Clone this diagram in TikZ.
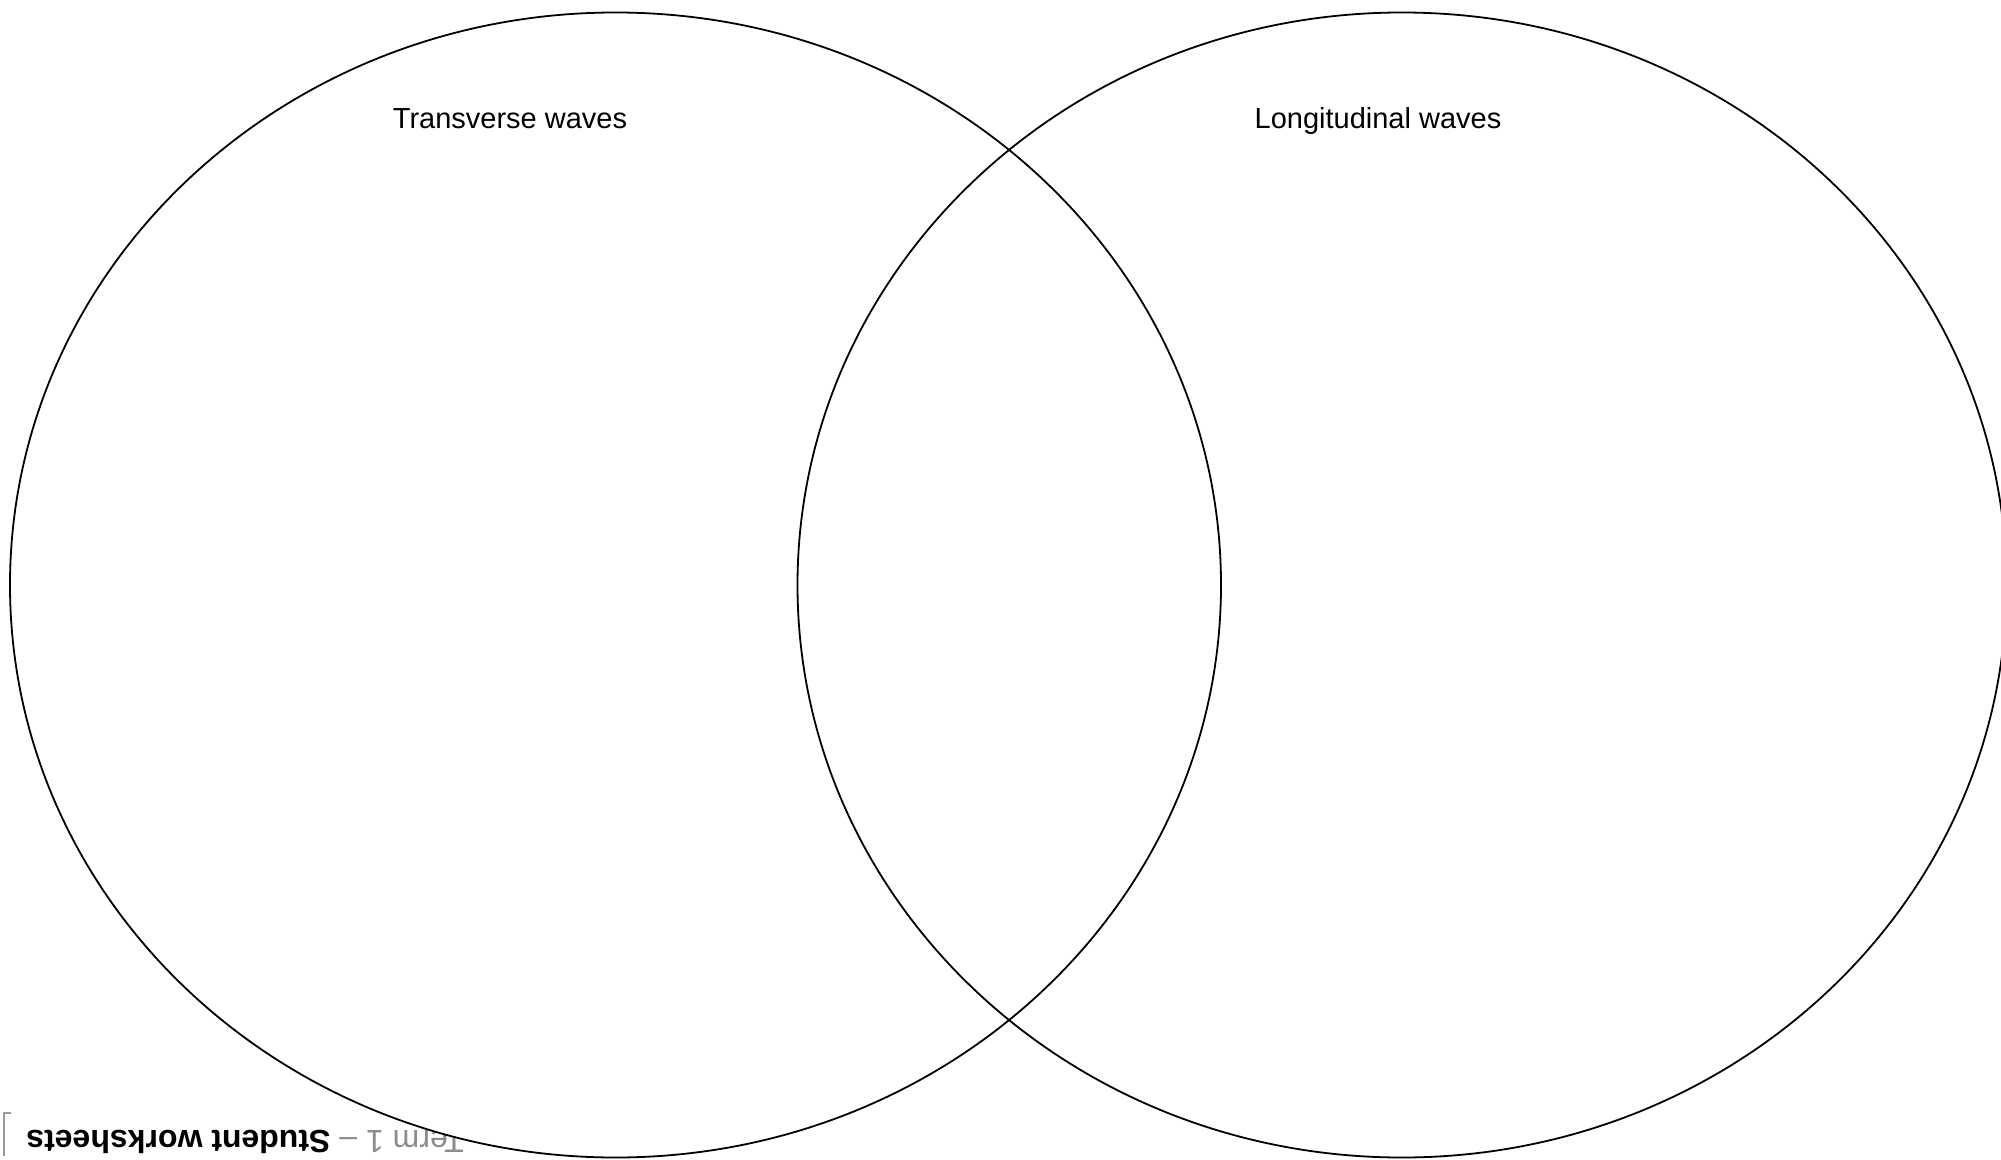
\documentclass[tikz,border=0pt]{standalone}
\usepackage{fontspec}
\setmainfont{Liberation Sans}
\begin{document}
\begin{tikzpicture}[x=0.5pt,y=-0.5pt,
  outline/.style={draw=black,line width=0.9pt},
  heading/.style={font=\fontsize{14.5}{17}\selectfont,anchor=base,inner sep=0pt},
  footer/.style={font=\fontsize{16}{19}\selectfont,rotate=180,anchor=east,inner sep=0pt}]
\useasboundingbox (0,0) rectangle (2001,1160);
% upside-down footer, partly covered by the left set
\node[footer] (foot) at (26,1142) {\textcolor{black!45}{Term 1 –} \textbf{Student worksheets}};
\draw[black!40,line width=0.8pt] (11,1113) -- (4,1113) -- (4,1156);
% white fill of the left set
\fill[white] (615.5,585) ellipse [x radius=302.75pt, y radius=286.25pt];
% outlines
\draw[outline] (615.5,585) ellipse [x radius=302.75pt, y radius=286.25pt];
\draw[outline] (1402,585) ellipse [x radius=302.25pt, y radius=286.25pt];
% headings
\node[heading] (trans) at (510,129) {Transverse waves};
\node[heading] (longi) at (1378,129) {Longitudinal waves};
\end{tikzpicture}
\end{document}
